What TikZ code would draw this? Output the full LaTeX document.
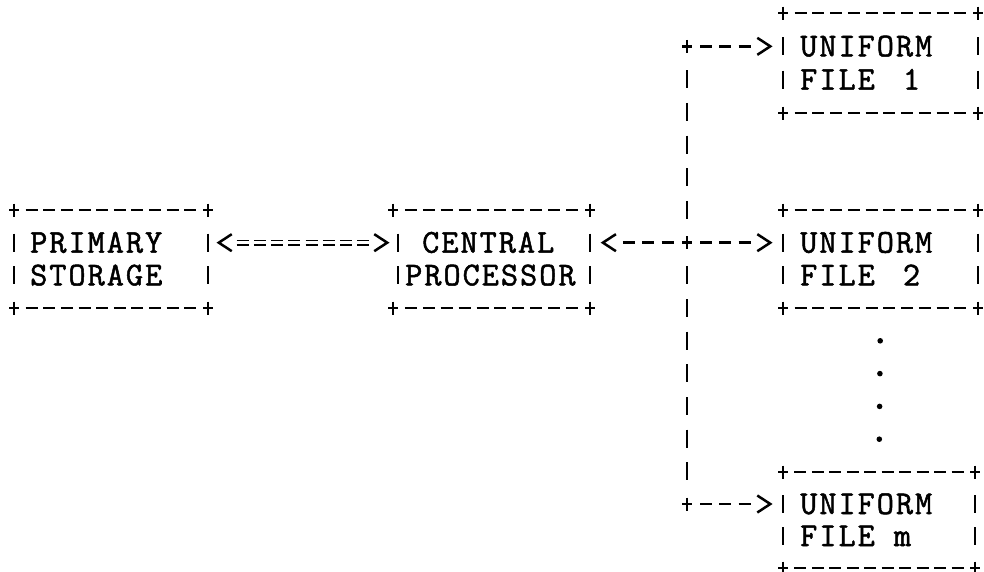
\documentclass[tikz,border=0pt]{standalone}
\usepackage{fontspec}
\newfontfamily\typer{Latin Modern Mono}[FakeBold=1.5,LetterSpace=6]
\usetikzlibrary{calc}

% a '+' mark centred on a point
\newcommand\plusmark[1]{%
  \draw[stroke] ($(#1)+(-5,0)$) -- ++(10,0) ($(#1)+(0,-6.5)$) -- ++(0,13);}
% n evenly spaced '-' between two points (ends excluded)
\newcommand\dashesbetween[3]{%
  \foreach \k in {1,...,#3}{%
    \draw[stroke] ($(#1)!{\k/(#3+1)}!(#2)+(-6,0)$) -- ++(12,0);}}
% n evenly spaced '|' between two points (ends excluded)
\newcommand\barsbetween[3]{%
  \foreach \k in {1,...,#3}{%
    \draw[barstroke] ($(#1)!{\k/(#3+1)}!(#2)+(0,-9)$) -- ++(0,18);}}
% chevron '>' (#2=1) or '<' (#2=-1) centred on a point
\newcommand\chevron[2]{%
  \draw[stroke,line join=miter,shift={(#1)},xscale=#2] (-6.5,-8.5) -- (6.5,0) -- (-6.5,8.5);}
% '=' centred on a point
\newcommand\eqmark[1]{%
  \draw[thinstroke] ($(#1)+(-6,-2.4)$) -- ++(12,0) ($(#1)+(-6,2.4)$) -- ++(12,0);}
% dashed connector from #1 towards #2 with #3 dashes, ending in a chevron
\newcommand\arrowrun[4]{%
  \foreach \k in {1,...,#3}{%
    \draw[stroke] ($(#1)!{\k/(#3+2)}!(#2)+(-6,0)$) -- ++(12,0);}
  \coordinate (tip) at ($(#1)!{(#3+1)/(#3+2)}!(#2)$);
  \chevron{tip}{#4}}
% typed box outline around a node; optional inset of the left side
\newcommand\asciibox[2][0]{%
  \plusmark{#2.north west}\plusmark{#2.north east}
  \plusmark{#2.south west}\plusmark{#2.south east}
  \dashesbetween{#2.north west}{#2.north east}{10}
  \dashesbetween{#2.south west}{#2.south east}{10}
  \barsbetween{$(#2.north west)+(#1,0)$}{$(#2.south west)+(#1,0)$}{2}
  \barsbetween{#2.north east}{#2.south east}{2}}

\begin{document}
\begin{tikzpicture}[x=1pt,y=-1pt,
  stroke/.style={line width=2.5pt,line cap=butt},
  barstroke/.style={line width=2.8pt,line cap=butt},
  thinstroke/.style={line width=1.4pt},
  txt/.style={font=\typer\fontsize{33.3}{33}\selectfont,inner sep=0pt,anchor=base west},
  box/.style 2 args={draw=none,inner sep=0pt,outer sep=0pt,minimum width=#1,minimum height=#2}]
\useasboundingbox (0,0) rectangle (984,571);

% boxes
\node[box={194pt}{98pt}]  (ps) at (111,259) {};
\node[box={197pt}{98pt}]  (cp) at (491.5,259) {};
\node[box={195pt}{100pt}] (f1) at (880.5,63) {};
\node[box={195pt}{98pt}]  (f2) at (880.5,259) {};
\node[box={192pt}{96pt}]  (fm) at (879,520) {};

\asciibox{ps}
\asciibox[5]{cp}
\asciibox{f1}
\asciibox{f2}
\asciibox{fm}

% box texts
\node[txt] (ps1) at ($(ps.north west)!1/3!(ps.south west)+(16,10)$) {PRIMARY};
\node[txt] (ps2) at ($(ps.north west)!2/3!(ps.south west)+(16,10)$) {STORAGE};
\node[txt] (cp1) at ($(cp.north west)!1/3!(cp.south west)+(29,10)$) {CENTRAL};
\node[txt] (cp2) at ($(cp.north west)!2/3!(cp.south west)+(12,10)$) {PROCESSOR};
\node[txt] (f11) at ($(f1.north west)!1/3!(f1.south west)+(17,10)$) {UNIFORM};
\node[txt] (f12) at ($(f1.north west)!2/3!(f1.south west)+(17,10)$) {FILE~\hspace{9pt}1};
\node[txt] (f21) at ($(f2.north west)!1/3!(f2.south west)+(17,10)$) {UNIFORM};
\node[txt] (f22) at ($(f2.north west)!2/3!(f2.south west)+(17,10)$) {FILE~\hspace{9pt}2};
\node[txt] (fm1) at ($(fm.north west)!1/3!(fm.south west)+(17,10)$) {UNIFORM};
\node[txt] (fm2) at ($(fm.north west)!2/3!(fm.south west)+(17,10)$) {FILE~m};

% attachment points on the first text row of each box
\coordinate (psR) at ($(ps.north east)!1/3!(ps.south east)$);
\coordinate (cpL) at ($(cp.north west)!1/3!(cp.south west)+(5,0)$);
\coordinate (cpR) at ($(cp.north east)!1/3!(cp.south east)$);
\coordinate (f1L) at ($(f1.north west)!1/3!(f1.south west)$);
\coordinate (f2L) at ($(f2.north west)!1/3!(f2.south west)$);
\coordinate (fmL) at ($(fm.north west)!1/3!(fm.south west)$);

% junctions of the vertical trunk
\coordinate (t1) at (687,0 |- f1L);
\coordinate (j)  at (687,0 |- cpR);
\coordinate (tm) at (687,0 |- fmL);

% primary storage <=> central processor
\foreach \k in {2,...,9}{\eqmark{$(psR)!{\k/11}!(cpL)$}}
\chevron{$(psR)!{1/11}!(cpL)$}{-1}
\chevron{$(psR)!{10/11}!(cpL)$}{1}

% trunk
\plusmark{t1}\plusmark{j}\plusmark{tm}
\barsbetween{t1}{j}{5}
\barsbetween{j}{tm}{7}

% branches
\arrowrun{j}{cpR}{3}{-1}
\arrowrun{j}{f2L}{3}{1}
\arrowrun{t1}{f1L}{3}{1}
\arrowrun{tm}{fmL}{3}{1}

% vertical ellipsis between file 2 and file m
\foreach \k in {1,...,4}{\fill ($(f2.south)!{\k/5}!(fm.north)$) circle (2.8);}
\end{tikzpicture}
\end{document}
